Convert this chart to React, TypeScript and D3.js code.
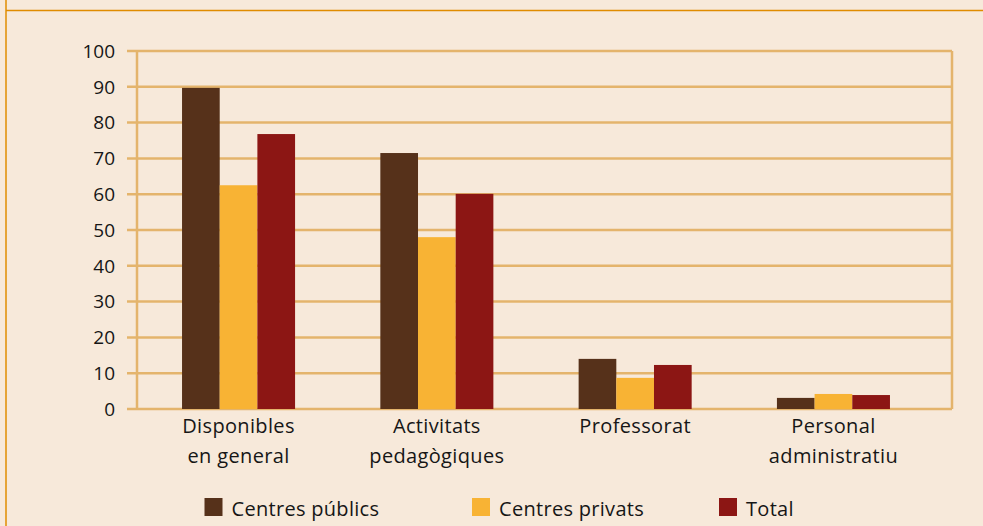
import React from "react";
import * as d3 from "d3";

const categories = [["Disponibles", "en general"], ["Activitats", "pedagògiques"], ["Professorat"], ["Personal", "administratiu"]];
const seriesNames = ["Centres públics", "Centres privats", "Total"];
const publics = [89.7, 71.5, 14.0, 3.1];
const privats = [62.5, 48.0, 8.7, 4.2];
const total = [76.8, 60.1, 12.3, 3.9];
const yTicks = [0, 10, 20, 30, 40, 50, 60, 70, 80, 90, 100];

const colors = ["#56311a", "#f8b334", "#8c1614"];
const W = 983, H = 526;
const left = 137, right = 952, top = 51, bottom = 409;

export default function App() {
  const series = [publics, privats, total];
  const x0 = d3.scaleBand<number>().domain(d3.range(categories.length)).range([139.4, 932.6]).paddingInner(0.43).paddingOuter(0.215);
  const x1 = d3.scaleBand<number>().domain([0, 1, 2]).range([0, x0.bandwidth()]);
  const y = d3.scaleLinear().domain([0, 100]).range([bottom, top]);
  const font = "'Open Sans', 'Noto Sans', sans-serif";
  const grid = "#e4b46c";
  const ink = "#161616";
  const legendX = [204.5, 472, 719];
  return (
    <svg width={W} height={H} style={{ position: "absolute", left: 0, top: 0 }}>
      <rect x={0} y={0} width={W} height={H} fill="#f7e9da" />
      <line x1={6} x2={6} y1={0} y2={H} stroke="#e08c00" strokeWidth={1.5} />
      <line x1={6} x2={W} y1={10.5} y2={10.5} stroke="#e08c00" strokeWidth={1.5} />
      {yTicks.map((t) => (
        <g key={t}>
          <line x1={127} x2={right} y1={y(t)} y2={y(t)} stroke={grid} strokeWidth={2.5} />
          <text x={115} y={y(t)} dy="0.36em" textAnchor="end" fontFamily={font} fontSize={19} fill={ink}>{t}</text>
        </g>
      ))}
      <line x1={left} x2={left} y1={top} y2={bottom} stroke={grid} strokeWidth={2.5} />
      <line x1={right} x2={right} y1={top} y2={bottom} stroke={grid} strokeWidth={2.5} />
      {categories.map((c, i) => (
        <g key={i} transform={`translate(${x0(i)},0)`}>
          {series.map((s, j) => (
            <rect key={j} x={x1(j)} y={y(s[i])} width={x1.bandwidth()} height={y(0) - y(s[i])} fill={colors[j]} />
          ))}
        </g>
      ))}
      {categories.map((c, i) => (
        <text key={i} textAnchor="middle" fontFamily={font} fontSize={20} letterSpacing={0.35} fill={ink}>
          {c.map((line, k) => (
            <tspan key={k} x={(x0(i) as number) + x0.bandwidth() / 2} y={433 + k * 30}>{line}</tspan>
          ))}
        </text>
      ))}
      {seriesNames.map((n, j) => (
        <g key={j}>
          <rect x={legendX[j]} y={498} width={18} height={18} fill={colors[j]} />
          <text x={legendX[j] + 27} y={515.5} fontFamily={font} fontSize={20} letterSpacing={0.3} fill={ink}>{n}</text>
        </g>
      ))}
    </svg>
  );
}
